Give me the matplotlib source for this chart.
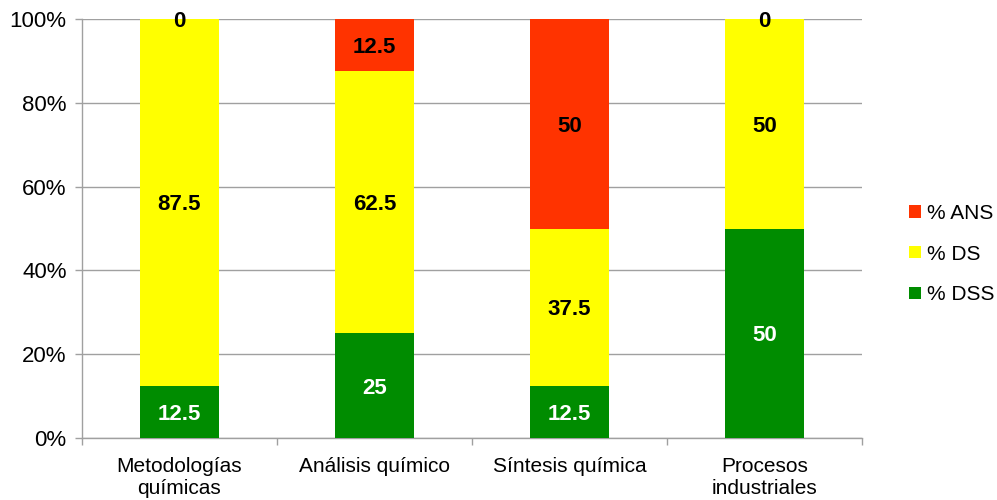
import matplotlib.pyplot as plt
import numpy as np

plt.rcParams['font.family'] = ['Liberation Sans', 'DejaVu Sans']

categorias = ["Metodologías\nquímicas", "Análisis químico", "Síntesis química", "Procesos\nindustriales"]
dss = [12.5, 25, 12.5, 50]
ds = [87.5, 62.5, 37.5, 50]
ans = [0, 12.5, 50, 0]

col_dss = '#008C00'
col_ds = '#FFFF00'
col_ans = '#FF3300'

fig = plt.figure(figsize=(9.97, 5), dpi=100)
ax = fig.add_axes([0.0822, 0.124, 0.7824, 0.838])

x = np.arange(len(categorias))
w = 0.405
b1 = ax.bar(x, dss, w, color=col_dss, label='% DSS', zorder=3)
b2 = ax.bar(x, ds, w, bottom=dss, color=col_ds, label='% DS', zorder=3)
bottom2 = np.array(dss) + np.array(ds)
b3 = ax.bar(x, ans, w, bottom=bottom2, color=col_ans, label='% ANS', zorder=3)

def fmt(v):
    return f"{v:g}"

fs_bar = 16
for i in range(len(x)):
    ax.text(x[i], dss[i] / 2, fmt(dss[i]), ha='center', va='center_baseline',
            color='white', fontsize=fs_bar, fontweight='bold', zorder=4)
    ax.text(x[i], dss[i] + ds[i] / 2, fmt(ds[i]), ha='center', va='center_baseline',
            color='black', fontsize=fs_bar, fontweight='bold', zorder=4)
    ax.text(x[i], bottom2[i] + ans[i] / 2, fmt(ans[i]), ha='center', va='center_baseline',
            color='black', fontsize=fs_bar, fontweight='bold', zorder=4)

ax.set_xlim(-0.5, len(x) - 0.5)
ax.set_ylim(0, 100)
ax.set_yticks(np.arange(0, 101, 20))
ax.set_yticklabels([f"{v}%" for v in range(0, 101, 20)])
ax.yaxis.grid(True, color='#A0A0A0', linewidth=1, zorder=0)

# ticks on x at category boundaries, labels centered
ax.set_xticks(np.arange(-0.5, len(x)), minor=False)
ax.set_xticklabels([])
ax.set_xticks(x, minor=True)
ax.set_xticklabels(categorias, minor=True, fontsize=15, linespacing=1.15)
ax.tick_params(axis='x', which='minor', length=0, pad=14)
ax.tick_params(axis='x', which='major', length=5, color='#A0A0A0', width=1)
ax.tick_params(axis='y', length=5, color='#A0A0A0', width=1, labelsize=16, pad=6)

for s in ['top', 'right']:
    ax.spines[s].set_visible(False)
for s in ['left', 'bottom']:
    ax.spines[s].set_color('#A0A0A0')
    ax.spines[s].set_linewidth(1)

handles = [b3, b2, b1]
leg = fig.legend(handles, ['% ANS', '% DS', '% DSS'], loc='center left',
                 bbox_to_anchor=(0.893, 0.492), frameon=False, fontsize=15,
                 handlelength=0.55, handleheight=0.55, handletextpad=0.3,
                 labelspacing=1.05)

fig.savefig('out.png', dpi=100)
